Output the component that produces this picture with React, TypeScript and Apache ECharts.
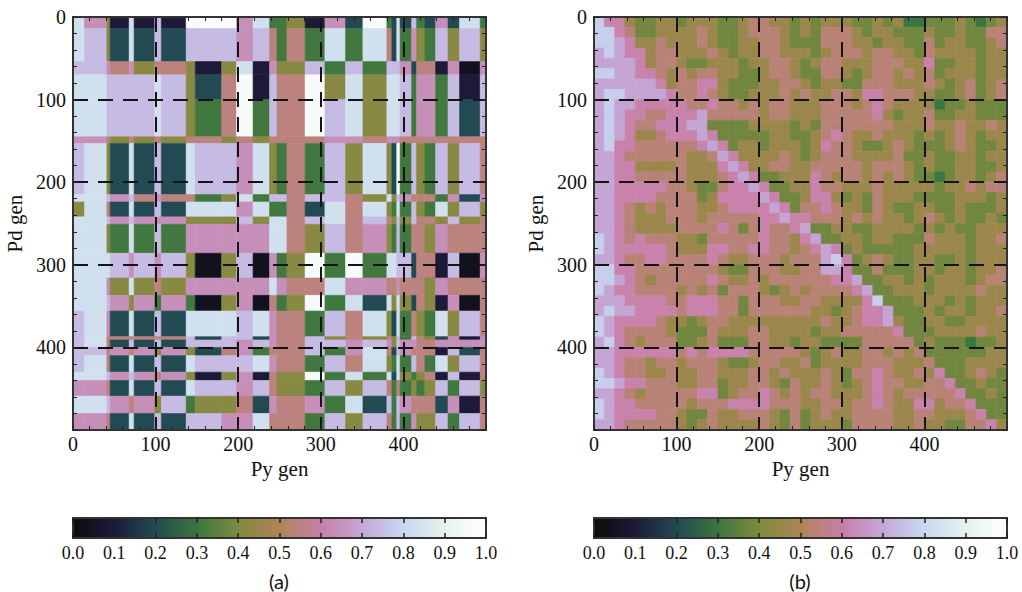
import React, { useEffect, useRef } from "react";
import * as echarts from "echarts";

const cubehelixStops = ["#0c0c0c", "#1c1a38", "#224a52", "#3a763f", "#7f8a3e", "#ae8556", "#c87ea6", "#c4a8d8", "#c8d8f0", "#e6f2ec", "#ffffff"];
const colorbarLabels = ["0.0", "0.1", "0.2", "0.3", "0.4", "0.5", "0.6", "0.7", "0.8", "0.9", "1.0"];

// Panel (a): edges of the blocks (generation numbers)
const aColumnEdges = [0, 14, 41, 45, 68, 74, 99, 107, 137, 148, 180, 198, 218, 238, 247, 259, 281, 305, 330, 351, 380, 386, 392, 396, 410, 416, 426, 439, 454, 468, 493, 500];
const aRowEdges = [0, 14, 54, 70, 100, 145, 153, 215, 224, 242, 251, 286, 316, 337, 356, 387, 391, 400, 410, 430, 440, 459, 480, 500];
// similarity level of each block, looked up in aLevels
const aLevels = [0.04, 0.1, 0.2, 0.31, 0.42, 0.55, 0.64, 0.74, 0.83, 0.97];
const aRows = [
  "8 6 4 1 8 1 7 1 9 9 9 6 8 3 3 4 1 6 2 9 3 2 8 2 7 3 2 6 2 8 3",
  "8 7 4 2 8 2 7 2 7 7 7 6 7 5 3 5 3 8 3 8 5 2 8 3 6 4 3 7 4 7 4",
  "7 7 6 5 6 4 5 5 4 1 4 8 1 6 4 4 7 3 7 3 7 7 7 6 2 5 5 1 6 0 6",
  "8 8 7 7 7 7 8 7 4 2 5 9 1 7 5 5 9 4 8 4 8 8 8 7 3 6 6 3 7 1 7",
  "8 8 7 7 7 7 8 7 4 3 5 9 3 7 5 5 9 7 8 4 8 8 8 7 3 6 6 3 7 2 7",
  "6 6 5 4 5 4 5 4 5 5 4 5 4 5 5 5 5 6 6 5 6 6 6 5 5 5 5 5 5 5 5",
  "7 8 4 2 8 2 7 2 8 7 7 6 8 4 3 5 3 7 4 8 4 2 9 3 7 4 3 7 4 7 5",
  "8 8 7 6 7 5 6 5 5 3 4 8 3 7 7 5 7 7 5 4 8 4 7 6 5 5 5 3 6 2 6",
  "4 8 5 2 8 2 7 2 8 8 8 6 8 3 3 5 2 8 5 8 4 3 8 3 7 4 3 8 4 7 4",
  "8 8 7 6 7 6 6 6 4 4 4 7 4 8 8 5 7 8 5 7 5 4 7 4 7 5 5 4 7 4 5",
  "8 8 4 3 8 3 7 3 6 6 6 6 6 8 8 5 4 7 5 6 4 3 7 3 5 5 4 6 5 5 5",
  "8 8 8 7 6 7 6 7 4 0 4 7 0 6 3 4 9 3 9 3 8 8 7 7 2 5 5 1 7 0 6",
  "8 8 6 4 8 4 5 4 6 6 6 6 6 8 6 5 5 8 6 6 5 5 6 5 5 5 4 6 5 5 5",
  "8 8 7 6 4 6 3 6 3 0 4 6 0 5 3 4 9 3 8 2 8 4 8 4 2 5 4 1 6 0 5",
  "7 8 6 2 8 2 7 2 8 8 8 7 8 6 5 5 3 7 5 8 4 2 8 3 5 4 3 8 4 7 5",
  "7 8 5 5 5 5 5 5 7 2 7 7 2 6 5 5 7 4 5 4 5 4 7 3 7 5 4 2 6 1 6",
  "7 8 5 2 7 2 7 2 7 7 7 6 7 6 5 5 7 7 6 7 6 4 7 6 6 5 5 6 6 6 6",
  "7 7 5 6 5 6 4 6 4 2 5 6 3 5 5 5 7 3 6 8 5 2 7 6 5 5 5 1 7 2 5",
  "7 8 5 2 8 2 7 2 8 7 7 7 8 6 5 5 3 7 5 8 4 3 8 3 7 5 3 8 4 7 5",
  "8 8 7 6 7 6 5 6 4 1 4 6 1 5 4 4 9 3 8 3 8 2 8 4 3 4 5 1 7 1 5",
  "6 6 5 2 8 2 7 2 8 7 7 6 7 5 4 4 3 7 4 7 5 3 5 3 4 3 4 7 3 7 4",
  "8 8 7 6 5 6 4 7 3 4 4 5 2 6 5 5 6 3 8 2 7 3 7 6 5 5 5 2 6 1 5",
  "6 6 5 2 8 2 7 2 7 7 6 6 8 5 5 5 3 7 4 7 5 3 7 3 6 4 4 7 3 7 5",
];

// Panel (b): cells 12.5 generations wide
const bCellSize = 12.5;
const bLevels = [0.1, 0.2, 0.3, 0.38, 0.46, 0.54, 0.61, 0.69, 0.78, 0.9];
const bRows = [
  "8 6 6 4 3 3 4 4 3 4 4 4 3 3 4 5 5 4 4 3 4 3 4 4 4 3 3 4 3 4 2 2 3 3 3 4 3 2 3 4",
  "8 8 6 5 3 3 4 4 4 4 5 4 3 3 4 5 5 5 4 3 4 3 5 5 5 4 3 4 4 3 3 3 4 3 3 4 3 3 5 5",
  "8 8 7 6 4 4 5 4 4 4 5 4 3 3 4 4 5 5 4 3 3 3 5 5 5 4 4 3 4 4 3 3 5 3 4 4 3 3 4 5",
  "7 8 7 6 6 4 5 5 4 4 4 5 4 3 4 4 5 5 4 4 4 3 4 5 5 5 4 5 5 4 4 3 5 4 4 4 4 3 4 4",
  "7 7 7 7 6 4 5 5 4 3 3 4 4 4 3 4 4 5 5 4 3 4 5 5 4 4 4 5 5 5 4 4 6 3 3 4 4 3 4 4",
  "8 8 7 7 6 6 5 4 5 4 5 5 4 4 3 3 4 5 5 4 3 3 5 5 4 3 4 5 5 4 5 4 5 3 4 4 4 3 4 4",
  "7 7 7 7 7 7 6 4 5 5 6 6 4 3 3 3 4 4 5 5 4 3 4 4 3 3 5 5 5 4 4 4 5 4 3 4 5 3 4 5",
  "7 8 8 7 7 7 7 6 5 5 6 5 4 3 3 4 4 4 5 4 5 4 4 5 5 4 6 6 5 5 5 4 4 3 3 4 5 3 4 5",
  "7 8 7 7 6 6 6 6 6 5 5 6 5 5 4 5 4 5 5 4 4 4 5 5 5 4 5 6 5 4 4 4 4 2 3 3 4 3 3 3",
  "7 8 7 6 6 5 5 6 6 6 7 5 5 5 5 5 4 5 5 4 4 4 5 5 5 5 5 6 4 3 4 4 5 3 3 4 4 3 3 3",
  "7 8 7 6 5 5 6 6 6 7 7 3 3 3 3 4 4 4 4 3 4 3 5 5 5 5 5 5 5 4 4 4 5 4 4 5 4 4 5 4",
  "7 8 7 6 4 4 5 6 6 6 7 6 3 3 3 3 3 4 4 3 3 4 5 6 5 4 4 5 4 4 4 3 4 3 4 5 4 3 4 4",
  "7 8 6 6 5 5 5 5 5 5 6 7 6 3 4 4 3 4 4 4 3 4 6 5 5 4 3 3 4 5 4 3 3 3 4 5 4 3 3 4",
  "7 7 6 5 5 5 5 5 5 4 4 5 7 6 4 4 4 4 5 4 3 4 5 5 5 4 4 4 4 5 3 3 4 3 3 4 4 3 4 4",
  "7 7 6 6 4 4 4 4 5 4 4 4 6 7 6 4 4 5 5 4 4 5 5 5 5 5 4 5 5 5 4 3 4 3 3 4 4 3 3 4",
  "7 7 6 6 5 5 5 5 5 4 4 4 5 6 7 6 3 3 4 4 4 6 5 4 5 5 4 5 4 5 4 3 3 2 3 4 4 3 4 5",
  "7 7 6 6 6 6 6 5 5 4 3 3 5 6 6 7 6 3 3 4 4 6 5 5 4 4 4 5 4 4 4 4 4 3 4 4 5 4 5 5",
  "7 7 6 6 6 6 5 5 5 5 3 4 6 6 6 6 7 6 3 3 4 6 6 4 3 4 3 5 4 4 4 3 3 3 3 4 4 4 3 4",
  "7 7 6 5 4 5 4 5 5 5 4 4 5 6 6 6 6 7 6 3 5 5 6 5 4 4 3 5 4 3 3 4 4 3 3 4 3 3 3 4",
  "7 7 6 5 4 4 4 5 5 5 4 5 5 5 5 5 6 6 7 6 6 5 5 5 4 5 4 5 4 4 3 4 5 4 3 4 3 3 4 3",
  "7 7 6 5 4 4 4 4 5 5 5 5 6 5 3 5 6 5 5 6 7 3 3 4 4 3 3 4 4 4 4 3 4 3 4 3 3 4 4 4",
  "8 7 6 5 6 5 5 5 4 4 3 5 5 5 5 5 6 5 5 4 6 7 3 3 4 4 3 4 4 3 3 3 5 4 4 4 3 4 4 5",
  "8 7 6 6 6 6 6 5 4 4 4 6 6 5 5 6 6 5 5 4 5 6 7 6 3 4 3 3 3 3 3 4 4 4 4 4 3 4 4 4",
  "7 7 6 5 5 6 6 5 5 5 5 6 5 4 4 5 5 5 4 5 5 5 7 8 6 3 4 5 4 3 3 4 4 3 3 4 3 4 4 4",
  "8 8 6 6 5 5 5 5 5 5 5 5 4 3 3 5 5 5 4 4 5 5 7 7 6 3 3 5 3 3 3 4 4 3 4 4 3 4 4 5",
  "8 8 7 6 5 4 5 5 5 5 5 6 5 4 4 5 4 5 5 5 5 5 5 6 6 7 3 3 4 4 3 4 3 4 4 4 3 4 5 5",
  "8 7 6 6 5 5 5 5 4 5 4 5 3 5 5 5 4 3 4 5 4 5 5 5 5 6 7 3 3 4 4 4 3 4 4 4 4 5 4 4",
  "7 7 7 6 6 6 6 5 5 6 6 6 5 5 3 5 5 5 4 4 5 5 4 4 4 4 6 8 3 3 3 4 4 4 3 4 3 4 4 4",
  "7 8 7 7 6 6 6 6 5 6 6 6 5 5 3 5 5 5 5 5 5 4 4 3 4 5 6 6 7 3 3 3 4 3 4 4 3 4 4 5",
  "8 7 6 6 6 6 5 4 4 3 4 5 5 4 4 4 4 4 4 4 4 4 5 4 4 5 6 6 7 4 3 3 4 4 3 3 4 4 4 4",
  "8 7 6 5 5 5 5 4 3 3 3 5 4 4 4 5 5 4 4 4 4 3 4 4 5 5 5 5 5 6 3 3 3 4 4 4 4 5 4 4",
  "7 8 6 5 4 5 5 5 3 3 4 5 3 3 3 5 5 4 4 3 4 4 3 3 3 3 5 5 5 5 5 3 4 3 3 3 2 3 3 4",
  "7 7 6 6 6 6 6 6 5 6 5 6 6 6 6 5 5 5 5 5 4 3 4 5 4 4 5 5 4 5 4 5 3 3 3 3 3 3 4 4",
  "7 7 6 5 5 4 5 5 4 5 5 5 4 3 3 4 5 5 4 4 5 3 4 4 4 4 5 5 5 4 4 4 5 3 3 3 4 4 4 4",
  "8 7 6 5 5 4 4 5 4 4 5 5 4 4 4 5 5 4 5 4 4 4 5 4 3 5 5 6 5 4 4 5 4 6 3 3 4 5 4 3",
  "8 8 7 6 6 5 5 5 4 4 5 5 3 4 4 5 5 4 3 5 4 4 5 4 3 4 5 6 5 5 4 4 5 5 6 3 3 4 3 3",
  "7 7 6 5 4 5 5 5 5 5 6 6 3 4 5 5 6 5 4 5 4 5 5 4 4 4 5 6 5 4 5 5 5 5 5 6 3 3 4 3",
  "8 7 6 6 5 5 5 5 5 4 5 5 5 6 6 6 6 5 5 5 4 4 5 5 4 5 5 6 5 4 4 6 6 4 5 5 6 3 3 3",
  "8 7 6 6 6 6 5 5 4 3 3 5 4 4 5 5 5 4 3 5 3 4 5 4 4 5 5 5 5 4 4 5 5 4 4 4 5 6 3 3",
  "7 7 6 5 5 5 5 5 4 3 4 5 4 4 4 4 5 4 3 5 3 4 4 4 3 5 5 5 5 4 4 5 4 4 3 3 5 5 6 4",
];

const aCells: number[][] = [];
aRows.forEach((row, r) => {
  row.split(" ").forEach((d, c) => {
    aCells.push([aColumnEdges[c], aColumnEdges[c + 1], aRowEdges[r], aRowEdges[r + 1], aLevels[Number(d)]]);
  });
});
const bCells: number[][] = [];
bRows.forEach((row, r) => {
  row.split(" ").forEach((d, c) => {
    bCells.push([c * bCellSize, (c + 1) * bCellSize, r * bCellSize, (r + 1) * bCellSize, bLevels[Number(d)]]);
  });
});

const SERIF = "'Liberation Serif', serif";
const INK = "#222";

const renderCell = (_: any, api: any) => {
  const a = api.coord([api.value(0), api.value(2)]);
  const b = api.coord([api.value(1), api.value(3)]);
  const fill = api.visual("color");
  return {
    type: "rect",
    shape: { x: a[0], y: a[1], width: b[0] - a[0], height: b[1] - a[1] },
    style: { fill, stroke: fill, lineWidth: 0.6 },
  };
};

const plotAxis = (gridIndex: number, position: string, labelled: boolean, name: string, isY: boolean) => ({
  type: "value",
  gridIndex,
  position,
  min: 0,
  max: 500,
  interval: 100,
  inverse: isY,
  z: 6,
  name: labelled ? name : "",
  nameLocation: "middle",
  nameGap: isY ? 48 : 25,
  nameRotate: isY ? 90 : 0,
  nameTextStyle: { fontFamily: SERIF, fontSize: 21, color: "#111" },
  splitLine: { show: false },
  minorSplitLine: { show: false },
  axisLine: { show: true, onZero: false, lineStyle: { color: "#333", width: 2 } },
  axisTick: { show: true, inside: true, length: 5, lineStyle: { color: INK, width: 1 } },
  minorTick: { show: true, splitNumber: 5, length: 4, lineStyle: { color: INK, width: 1 } },
  axisLabel: {
    show: labelled,
    margin: isY ? 7 : 4,
    fontFamily: SERIF,
    fontSize: 20,
    color: "#111",
    formatter: (v: number) => (v === 500 ? "" : String(v)),
  },
});

const barXAxis = (gridIndex: number, position: string, labelled: boolean) => ({
  type: "value",
  gridIndex,
  position,
  min: 0,
  max: 1,
  interval: 0.1,
  z: 6,
  splitLine: { show: false },
  axisLine: { show: true, onZero: false, lineStyle: { color: "#333", width: 2 } },
  axisTick: { show: true, inside: true, length: 5, lineStyle: { color: "#222", width: 1.5 } },
  axisLabel: {
    show: labelled,
    margin: 6,
    fontFamily: SERIF,
    fontSize: 18,
    color: "#111",
    formatter: (v: number) => colorbarLabels[Math.round(v * 10)],
  },
});
const barYAxis = (gridIndex: number, position: string) => ({
  type: "value",
  gridIndex,
  position,
  min: 0,
  max: 1,
  z: 6,
  splitLine: { show: false },
  axisLine: { show: true, onZero: false, lineStyle: { color: "#333", width: 2 } },
  axisTick: { show: false },
  axisLabel: { show: false },
});

const heatSeries = (index: number, cells: number[][]) => ({
  type: "custom",
  name: index === 0 ? "(a)" : "(b)",
  xAxisIndex: index * 2,
  yAxisIndex: index * 2,
  renderItem: renderCell,
  data: cells,
  dimensions: ["x0", "x1", "y0", "y1", "value"],
  encode: { x: [0, 1], y: [2, 3] },
  silent: true,
  z: 2,
  markLine: {
    silent: true,
    symbol: "none",
    animation: false,
    label: { show: false },
    lineStyle: { type: [15, 10], color: "#141414", width: 2 },
    data: [100, 200, 300, 400].flatMap((v) => [{ xAxis: v }, { yAxis: v }]),
  },
});

const barMap = (seriesIndex: number, left: number) => ({
  type: "continuous",
  seriesIndex,
  dimension: 4,
  min: 0,
  max: 1,
  orient: "horizontal",
  left,
  top: 518,
  padding: 0,
  itemWidth: 20,
  itemHeight: 413,
  calculable: false,
  hoverLink: false,
  inRange: { color: cubehelixStops },
  z: 1,
});

const caption = (text: string, x: number) => ({
  type: "text",
  x,
  y: 581,
  style: { text, fontFamily: "Lato, sans-serif", fontSize: 20, fill: "#111", textAlign: "center", textVerticalAlign: "middle" },
});

export default function App() {
  const ref = useRef<HTMLDivElement>(null);
  useEffect(() => {
    const chart = echarts.init(ref.current!, null, { renderer: "svg" });
    chart.setOption({
      animation: false,
      backgroundColor: "#fff",
      grid: [
        { left: 73, top: 17, width: 413, height: 413 },
        { left: 594, top: 17, width: 413, height: 413 },
        { left: 73, top: 518, width: 413, height: 20 },
        { left: 594, top: 518, width: 413, height: 20 },
      ],
      xAxis: [
        plotAxis(0, "bottom", true, "Py gen", false),
        plotAxis(0, "top", false, "", false),
        plotAxis(1, "bottom", true, "Py gen", false),
        plotAxis(1, "top", false, "", false),
        barXAxis(2, "bottom", true),
        barXAxis(2, "top", false),
        barXAxis(3, "bottom", true),
        barXAxis(3, "top", false),
      ],
      yAxis: [
        plotAxis(0, "left", true, "Pd gen", true),
        plotAxis(0, "right", false, "", true),
        plotAxis(1, "left", true, "Pd gen", true),
        plotAxis(1, "right", false, "", true),
        barYAxis(2, "left"),
        barYAxis(2, "right"),
        barYAxis(3, "left"),
        barYAxis(3, "right"),
      ],
      visualMap: [barMap(0, 73), barMap(1, 594)],
      series: [heatSeries(0, aCells), heatSeries(1, bCells)],
      graphic: [caption("(a)", 279), caption("(b)", 800)],
    });
    return () => chart.dispose();
  }, []);
  return <div ref={ref} style={{ position: "absolute", left: 0, top: 0, width: 1022, height: 592 }} />;
}
